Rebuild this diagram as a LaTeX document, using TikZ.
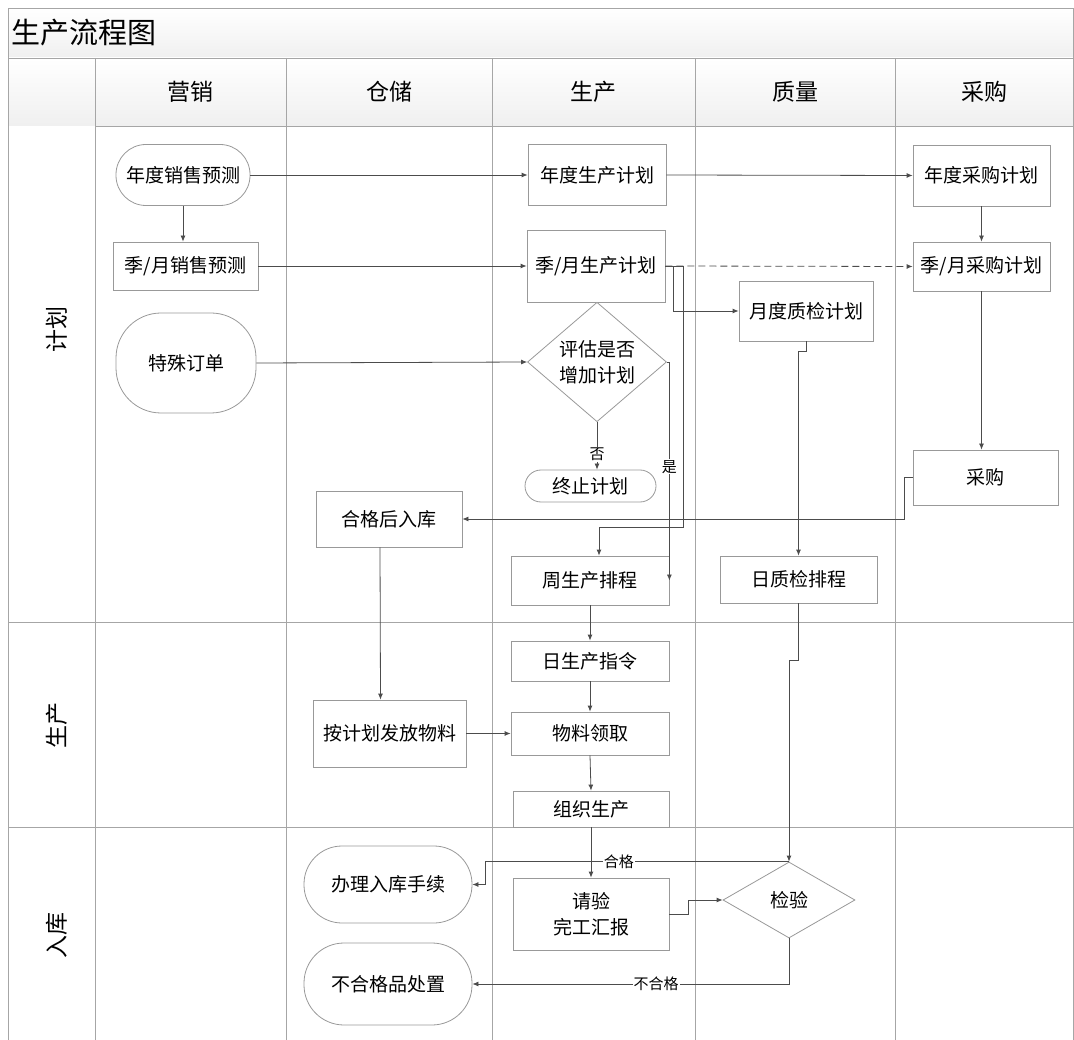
\documentclass[tikz,border=0pt]{standalone}
\usepackage{fontspec}
\setmainfont{Noto Sans CJK SC}
\usetikzlibrary{shapes.geometric,arrows.meta}
\tikzset{
  box/.style={draw=gray!80,line width=0.8pt,fill=white,inner sep=0pt,
    font=\fontsize{19}{26}\selectfont,align=center},
  sz/.style n args={2}{minimum width=#1pt,minimum height=#2pt},
  proc/.style={box},
  term/.style={box,rounded corners=#1pt},
  dec/.style={box,diamond},
  arr/.style={draw=black!70,line width=0.8pt,-{Latex[length=6pt,width=5pt]}},
  lane/.style={draw=gray!70,line width=0.8pt},
  lbl/.style={fill=white,inner sep=1pt,font=\fontsize{15}{17}\selectfont},
  head/.style={font=\fontsize{23}{26}\selectfont},
}
\begin{document}
\begin{tikzpicture}[x=1pt,y=-1pt]
  \useasboundingbox (0,0) rectangle (1074,1040);
  % swimlanes
  \shade[top color=white,bottom color=gray!12] (8,8) rectangle (1073,58);
  \shade[top color=white,bottom color=gray!12] (8,58) rectangle (1073,126);
  \draw[lane] (8,8) rectangle (1073,1040);
  \draw[lane] (8,58) -- (1073,58);
  \draw[lane] (95,126) -- (1073,126);
  \draw[lane] (8,622) -- (1073,622);
  \draw[lane] (8,827) -- (1073,827);
  \foreach \x in {95,286,492,695,895}
    \draw[lane] (\x,58) -- (\x,1040);
  \node[anchor=west,font=\fontsize{29}{32}\selectfont] (title) at (8,33) {生产流程图};
  \foreach \x/\t in {190.5/营销,389/仓储,593.5/生产,795/质量,984/采购}
    \node[head] at (\x,92) {\t};
  \foreach \y/\t in {330/计划,725/生产,935/入库}
    \node[head,rotate=90] at (57,\y) {\t};

  % marketing
  \node[term=30,sz={134}{61}] (salesY) at (183,175) {年度销售预测};
  \node[proc,sz={145}{48}] (salesQ) at (185.5,266) {季/月销售预测};
  \node[term=45,sz={140}{100}] (special) at (186,363) {特殊订单};
  % storage
  \node[proc,sz={146}{56}] (stock) at (389,519) {合格后入库};
  \node[proc,sz={153}{67}] (release) at (389.5,733.5) {按计划发放物料};
  \node[term=38,sz={168}{77}] (storeIn) at (388,884.5) {办理入库手续};
  \node[term=40,sz={168}{82}] (dispose) at (388,984) {不合格品处置};
  % production
  \node[proc,sz={138}{61}] (prodY) at (597,175) {年度生产计划};
  \node[proc,sz={138}{72}] (prodQ) at (596,266) {季/月生产计划};
  \node[dec,sz={139}{100}] (assess) at (597,362) {评估是否\\增加计划};
  \node[term=16,sz={131}{32}] (stop) at (590.5,486) {终止计划};
  \node[proc,sz={158}{49}] (weekly) at (590,580.5) {周生产排程};
  \node[proc,sz={158}{40}] (daily) at (590,661) {日生产指令};
  \node[proc,sz={158}{43}] (pick) at (590,733.5) {物料领取};
  \node[proc,sz={156}{36}] (organize) at (591,809) {组织生产};
  \node[proc,sz={156}{72}] (report) at (591,914) {请验\\完工汇报};
  % quality
  \node[proc,sz={134}{60}] (qcM) at (806,311) {月度质检计划};
  \node[proc,sz={157}{47}] (qcD) at (798.5,579.5) {日质检排程};
  \node[dec,sz={132}{76}] (inspect) at (789,900) {检验};
  % purchasing
  \node[proc,sz={137}{61}] (purY) at (981.5,175.5) {年度采购计划};
  \node[proc,sz={137}{49}] (purQ) at (981.5,266.5) {季/月采购计划};
  \node[proc,sz={145}{55}] (purch) at (985.5,477.5) {采购};

  % connectors
  \draw[arr] (salesY.south) -- (salesY.south |- salesQ.north);
  \draw[arr] (salesY.east) -- (prodY.west);
  \draw[arr] (prodY.east) -- (purY.west);
  \draw[arr] (purY.south) -- (purY.south |- purQ.north);
  \draw[arr] (salesQ.east) -- (prodQ.west);
  \draw[arr,dash pattern=on 7pt off 4pt] (prodQ.east) -- (purQ.west);
  \draw[arr] (prodQ.east) -- ++(8,0) |- (qcM.west);
  \draw[arr] (prodQ.east) -- ++(18,0) -- ++(0,261) -| ([xshift=9pt]weekly.north);
  \draw[arr] (special.east) -- (assess.west);
  \draw[arr] (assess.south) -- (assess.south |- stop.north) node[lbl,pos=0.68] {否};
  \draw[arr] (assess.east) -| (weekly.east) node[lbl,pos=0.74] {是};
  \draw[arr] (purQ.south) -- (purQ.south |- purch.north);
  \draw[arr] (purch.west) -- ++(-8,0) |- (stock.east);
  \draw[arr] ([xshift=-9pt]stock.south) -- ([xshift=-9pt]release.north);
  \draw[arr] (release.east) -- (pick.west);
  \draw[arr] (weekly.south) -- (daily.north);
  \draw[arr] (daily.south) -- (pick.north);
  \draw[arr] (pick.south) -- (organize.north);
  \draw[arr] (organize.south) -- (report.north);
  \draw[arr] (qcM.south) -- ++(0,10) -| (qcD.north);
  \draw[arr] (qcD.south) -- ++(0,57) -| (inspect.north);
  \draw[arr] (report.east) -- ++(19,0) |- (inspect.west);
  \draw[arr] (inspect.north) -- node[lbl,pos=0.56] {合格} ++(-304,0) |- (storeIn.east);
  \draw[arr] (inspect.south) |- (dispose.east) node[lbl,pos=0.71] {不合格};
\end{tikzpicture}
\end{document}
